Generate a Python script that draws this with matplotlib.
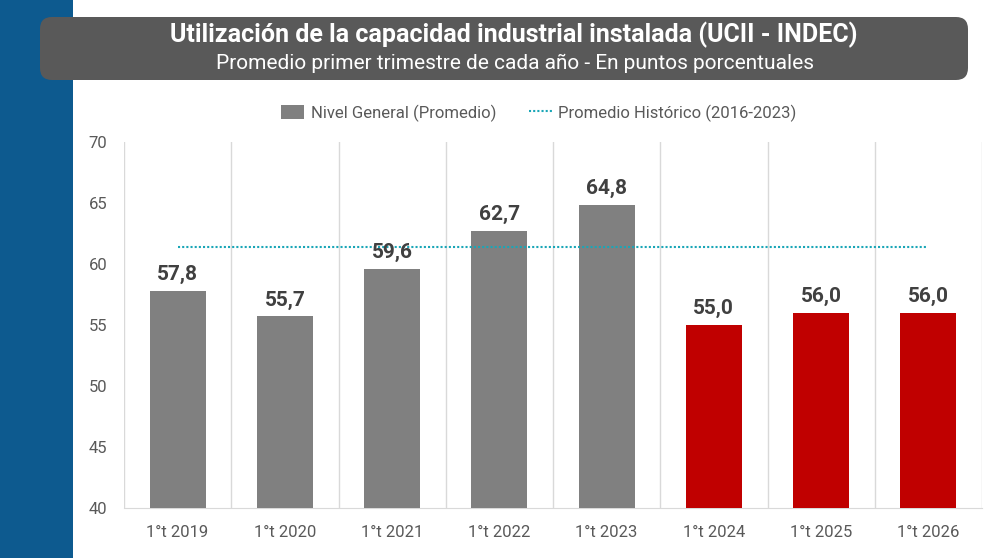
import matplotlib
matplotlib.use("Agg")
import matplotlib.pyplot as plt
from matplotlib.patches import FancyBboxPatch, Rectangle
from matplotlib.lines import Line2D

categories = ["1°t 2019", "1°t 2020", "1°t 2021", "1°t 2022", "1°t 2023", "1°t 2024", "1°t 2025", "1°t 2026"]
values = [57.8, 55.7, 59.6, 62.7, 64.8, 55.0, 56.0, 56.0]
bar_colors = ["#808080"] * 5 + ["#c00000"] * 3
hist_avg = 61.4
y_ticks = [40, 45, 50, 55, 60, 65, 70]

plt.rcParams['font.family'] = ['Roboto', 'DejaVu Sans']

fig = plt.figure(figsize=(10, 5.58), dpi=100)
fig.patch.set_facecolor("white")

# blue strip on the left
fig.patches.append(Rectangle((0, 0), 0.073, 1, transform=fig.transFigure,
                             facecolor="#0d5a8f", edgecolor="none", zorder=0))
# title box
fig.patches.append(FancyBboxPatch((0.040, 1 - 80 / 558), 0.928, 63 / 558,
                                  boxstyle="round,pad=0,rounding_size=0.012",
                                  transform=fig.transFigure, facecolor="#595959",
                                  edgecolor="none", mutation_aspect=1.79, zorder=1))
fig.text(0.514, 1 - 35 / 558, "Utilización de la capacidad industrial instalada (UCII - INDEC)",
         ha="center", va="center", color="white", fontsize=18, fontweight="bold", zorder=2)
fig.text(0.515, 1 - 63 / 558, "Promedio primer trimestre de cada año - En puntos porcentuales",
         ha="center", va="center", color="white", fontsize=15, zorder=2)

ax = fig.add_axes([0.124, 1 - 508 / 558, 0.858, 366 / 558])
x = list(range(len(categories)))
ax.bar(x, values, width=0.52, color=bar_colors, zorder=3, label="Nivel General (Promedio)")
ax.plot([x[0], x[-1]], [hist_avg, hist_avg], linestyle=(0, (1, 1)), color="#1aa6b7",
        linewidth=1.5, zorder=4, label="Promedio Histórico (2016-2023)")

for xi, v in zip(x, values):
    ax.annotate(f"{v:.1f}".replace(".", ","), (xi, v), xytext=(0, 5), textcoords="offset points",
                ha="center", va="bottom", fontsize=15, fontweight="bold", color="#404040", zorder=5)

ax.set_xlim(-0.5, len(categories) - 0.5)
ax.set_ylim(40, 70)
ax.set_yticks(y_ticks)
ax.set_xticks(x)
ax.set_xticklabels(categories)
ax.tick_params(axis="both", length=0, labelsize=12, colors="#595959")
ax.tick_params(axis="x", pad=12)
ax.tick_params(axis="y", pad=12)

for b in [i - 0.5 for i in range(len(categories) + 1)]:
    ax.axvline(b, color="#d9d9d9", linewidth=1, zorder=1)
for s in ["top", "right", "left"]:
    ax.spines[s].set_visible(False)
ax.spines["bottom"].set_color("#d9d9d9")

handles = [Rectangle((0, 0), 1, 1, facecolor="#808080"),
           Line2D([0], [0], linestyle=(0, (1, 1)), color="#1aa6b7", linewidth=1.5)]
fig.legend(handles, ["Nivel General (Promedio)", "Promedio Histórico (2016-2023)"],
           loc="center", bbox_to_anchor=(0.539, 1 - 113 / 558), ncol=2, frameon=False,
           fontsize=12, labelcolor="#595959", handlelength=1.35, handleheight=0.9,
           columnspacing=2.0, handletextpad=0.4)

fig.savefig("out.png", dpi=100)
